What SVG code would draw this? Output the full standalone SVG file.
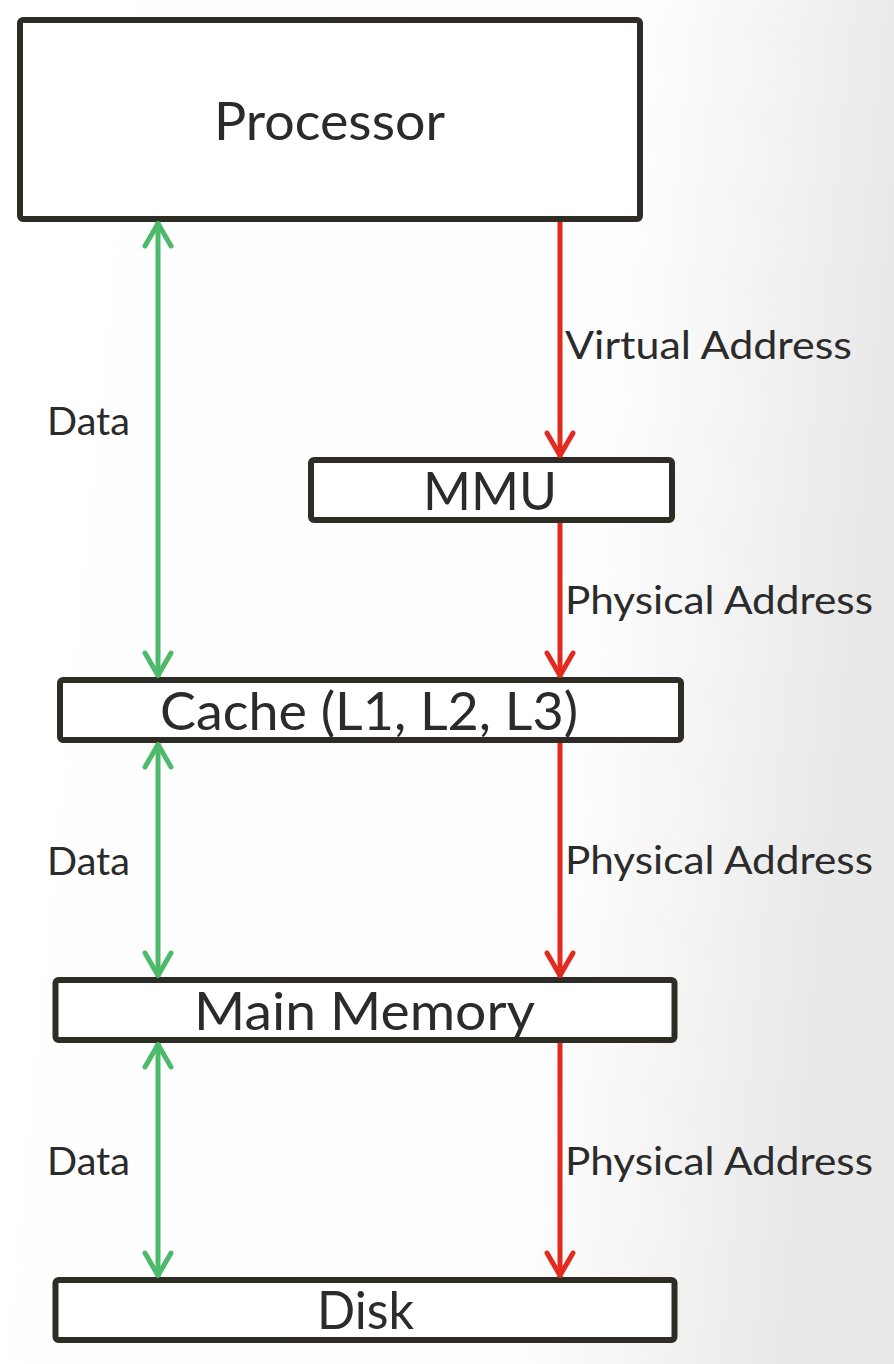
<svg xmlns="http://www.w3.org/2000/svg" width="894" height="1364" viewBox="0 0 894 1364">
  <defs>
    <linearGradient id="bg" x1="0" y1="0" x2="1" y2="0.15">
      <stop offset="0" stop-color="#ffffff"/>
      <stop offset="0.72" stop-color="#fdfdfd"/>
      <stop offset="1" stop-color="#e9e9e9"/>
    </linearGradient>
    <marker id="ag" viewBox="-30 -17 34 34" markerWidth="34" markerHeight="34" refX="0" refY="0" orient="auto-start-reverse" markerUnits="userSpaceOnUse" overflow="visible">
      <path d="M-24,-13 L-1.5,0 L-24,13" fill="none" stroke="#4dba6b" stroke-width="5" stroke-linecap="round" stroke-linejoin="round"/>
    </marker>
    <marker id="ar" viewBox="-30 -17 34 34" markerWidth="34" markerHeight="34" refX="0" refY="0" orient="auto" markerUnits="userSpaceOnUse" overflow="visible">
      <path d="M-24,-13 L-1.5,0 L-24,13" fill="none" stroke="#e22a20" stroke-width="5" stroke-linecap="round" stroke-linejoin="round"/>
    </marker>
  </defs>
  <style>
    .box { fill: #ffffff; stroke: #2f2c26; stroke-width: 6; }
    .big { font-family: Lato, "Open Sans", "Liberation Sans", sans-serif; font-size: 53px; fill: #2b2b2b; }
    .lbl { font-family: Lato, "Open Sans", "Liberation Sans", sans-serif; font-size: 39px; fill: #2b2b2b; }
    .g { stroke: #4dba6b; stroke-width: 5; fill: none; }
    .r { stroke: #e22a20; stroke-width: 5; fill: none; }
  </style>
  <rect x="0" y="0" width="894" height="1364" fill="url(#bg)"/>

  <g id="processor">
    <rect class="box" x="20" y="20" width="620" height="199" rx="3"/>
    <text class="big" x="214" y="140" textLength="231" lengthAdjust="spacingAndGlyphs">Processor</text>
  </g>
  <g id="mmu">
    <rect class="box" x="311" y="460" width="361" height="60" rx="3"/>
    <text class="big" x="423" y="510" textLength="134" lengthAdjust="spacingAndGlyphs">MMU</text>
  </g>
  <g id="cache">
    <rect class="box" x="60" y="680" width="621" height="60" rx="3"/>
    <text class="big" x="160" y="730" textLength="418" lengthAdjust="spacingAndGlyphs">Cache (L1, L2, L3)</text>
  </g>
  <g id="main-memory">
    <rect class="box" x="55.5" y="980" width="619" height="60" rx="3"/>
    <text class="big" x="194" y="1030" textLength="341" lengthAdjust="spacingAndGlyphs">Main Memory</text>
  </g>
  <g id="disk">
    <rect class="box" x="55.5" y="1280" width="619" height="60" rx="3"/>
    <text class="big" x="317" y="1329" textLength="97" lengthAdjust="spacingAndGlyphs">Disk</text>
  </g>

  <g id="connectors">
    <line class="g" x1="158" y1="222" x2="158" y2="677" marker-start="url(#ag)" marker-end="url(#ag)"/>
    <line class="g" x1="158" y1="743" x2="158" y2="977" marker-start="url(#ag)" marker-end="url(#ag)"/>
    <line class="g" x1="158" y1="1043" x2="158" y2="1277" marker-start="url(#ag)" marker-end="url(#ag)"/>
    <line class="r" x1="560" y1="222" x2="560" y2="457" marker-end="url(#ar)"/>
    <line class="r" x1="560" y1="523" x2="560" y2="677" marker-end="url(#ar)"/>
    <line class="r" x1="560" y1="743" x2="560" y2="977" marker-end="url(#ar)"/>
    <line class="r" x1="560" y1="1043" x2="560" y2="1277" marker-end="url(#ar)"/>
  </g>

  <g id="labels">
    <text class="lbl" x="47" y="435" textLength="83" lengthAdjust="spacingAndGlyphs">Data</text>
    <text class="lbl" x="47" y="875" textLength="83" lengthAdjust="spacingAndGlyphs">Data</text>
    <text class="lbl" x="47" y="1175" textLength="83" lengthAdjust="spacingAndGlyphs">Data</text>
    <text class="lbl" x="565" y="359" textLength="287" lengthAdjust="spacingAndGlyphs">Virtual Address</text>
    <text class="lbl" x="565" y="614" textLength="308" lengthAdjust="spacingAndGlyphs">Physical Address</text>
    <text class="lbl" x="565" y="874" textLength="308" lengthAdjust="spacingAndGlyphs">Physical Address</text>
    <text class="lbl" x="565" y="1175" textLength="308" lengthAdjust="spacingAndGlyphs">Physical Address</text>
  </g>
</svg>
